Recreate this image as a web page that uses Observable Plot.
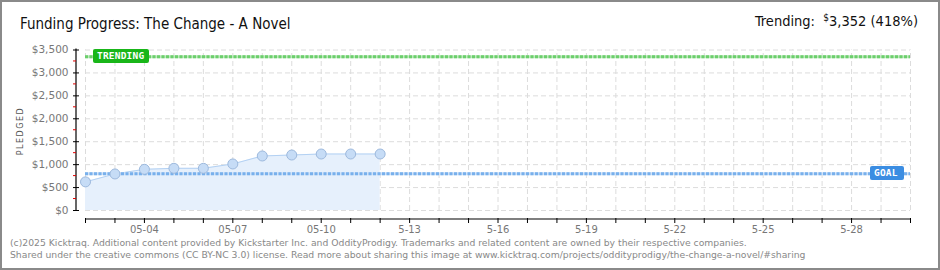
<!DOCTYPE html>
<html>
<head>
<meta charset="utf-8">
<script src="https://cdn.jsdelivr.net/npm/d3@7"></script>
<script src="https://cdn.jsdelivr.net/npm/@observablehq/plot@0.6"></script>
<style>
  html, body { margin: 0; padding: 0; background: #fff; }
  #wrap { position: relative; width: 940px; height: 270px; overflow: hidden; background: #fff; }
  #border { position: absolute; left: 0; top: 0; width: 940px; height: 270px; box-sizing: border-box; border: 2px solid #8a8a8a; pointer-events: none; }
  #title { position: absolute; left: 20px; top: 15px; font-family: "Liberation Sans Narrow", "DejaVu Sans Condensed", sans-serif; font-size: 15px; color: #111; white-space: nowrap; }
  #trend { position: absolute; right: 22px; top: 12px; font-family: "Liberation Sans Narrow", "DejaVu Sans Condensed", sans-serif; font-size: 14.5px; color: #111; white-space: nowrap; }
  #trend sup { font-size: 10px; vertical-align: 5px; }
  #foot { position: absolute; left: 10px; top: 237px; font-family: "DejaVu Sans", sans-serif; font-size: 9.25px; line-height: 12px; color: #888; white-space: nowrap; }
  #ylab { position: absolute; left: 20px; top: 131px; transform: translate(-50%, -50%) rotate(-90deg); transform-origin: center; font-family: "DejaVu Sans", sans-serif; font-size: 8px; letter-spacing: 1.5px; color: #555; white-space: nowrap; }
  #chart { position: absolute; left: 0; top: 0; }
</style>
</head>
<body>
<div id="wrap">
  <div id="chart"></div>
  <div id="title"></div>
  <div id="trend"></div>
  <div id="ylab"></div>
  <div id="foot"></div>
  <div id="border"></div>
</div>
<script>
// ---- data ----
const title = "Funding Progress: The Change - A Novel";
const trendingLabel = "Trending:";
const trendingText = "3,352 (418%)";
const yAxisLabel = "PLEDGED";
const footerLines = [
  "(c)2025 Kicktraq. Additional content provided by Kickstarter Inc. and OddityProdigy. Trademarks and related content are owned by their respective companies.",
  "Shared under the creative commons (CC BY-NC 3.0) license. Read more about sharing this image at www.kicktraq.com/projects/oddityprodigy/the-change-a-novel/#sharing"
];
const dates = ["2025-05-02","2025-05-03","2025-05-04","2025-05-05","2025-05-06","2025-05-07","2025-05-08","2025-05-09","2025-05-10","2025-05-11","2025-05-12"];
const pledged = [624, 797, 898, 920, 920, 1015, 1189, 1210, 1232, 1232, 1232];
const goal = 800;
const trending = 3352;
const xStart = "2025-05-02";
const xEnd = "2025-05-30";
const xLabelDates = ["2025-05-04","2025-05-07","2025-05-10","2025-05-13","2025-05-16","2025-05-19","2025-05-22","2025-05-25","2025-05-28"];
const xLabels = ["05-04","05-07","05-10","5-13","5-16","5-19","5-22","5-25","5-28"];
const yTicks = [0, 500, 1000, 1500, 2000, 2500, 3000, 3500];
const yTickLabels = ["$0","$500","$1,000","$1,500","$2,000","$2,500","$3,000","$3,500"];
const yMinorTicks = [250, 750, 1250, 1750, 2250, 2750, 3250];

// ---- build ----
const parse = s => new Date(s + "T00:00:00Z");
const data = dates.map((d, i) => ({date: parse(d), value: pledged[i]}));
const t0 = parse(xStart), t1 = parse(xEnd);
const allDays = d3.utcDay.range(t0, d3.utcDay.offset(t1, 1));
const labelDates = xLabelDates.map(parse);
const labelFor = d => xLabels[labelDates.findIndex(x => +x === +d)];

document.getElementById("title").textContent = title;
document.getElementById("trend").innerHTML = trendingLabel + "&nbsp;&nbsp;<sup>$</sup>" + trendingText;
document.getElementById("ylab").textContent = yAxisLabel;
document.getElementById("foot").innerHTML = footerLines.map(l => `<div>${l}</div>`).join("");

function axisLines(index, scales, values, dimensions) {
  const g = d3.create("svg:g");
  const {height, marginLeft, marginBottom} = dimensions;
  const yb = height - marginBottom + 1;
  g.append("line").attr("x1", scales.x(t0)).attr("x2", scales.x(t1)).attr("y1", yb).attr("y2", yb)
    .attr("stroke", "#000").attr("stroke-width", 1.2);
  g.append("line").attr("x1", marginLeft - 3).attr("x2", marginLeft - 3)
    .attr("y1", scales.y(3500) - 1).attr("y2", scales.y(0) + 1).attr("stroke", "#000").attr("stroke-width", 1.2);
  g.selectAll("line.minor").data(yMinorTicks).join("line")
    .attr("x1", marginLeft - 6).attr("x2", marginLeft - 3)
    .attr("y1", d => scales.y(d)).attr("y2", d => scales.y(d))
    .attr("stroke", "#e00000").attr("stroke-width", 1);
  return g.node();
}

function badge(text, value, anchorDate, side, fill, w) {
  return (index, scales) => {
    const g = d3.create("svg:g");
    const y = Math.round(scales.y(value));
    const x = side === "left" ? scales.x(anchorDate) + 8 : scales.x(anchorDate) - 6 - w;
    g.append("rect").attr("x", x).attr("y", y - 7).attr("width", w).attr("height", 14)
      .attr("rx", 2).attr("fill", fill);
    g.append("text").attr("x", x + 4).attr("y", y + 0.5).attr("dominant-baseline", "middle")
      .attr("text-anchor", "start")
      .attr("fill", "#fff").attr("font-family", "DejaVu Sans Mono, monospace").attr("font-size", 9.5)
      .attr("font-weight", "bold").attr("letter-spacing", 0.2).text(text);
    return g.node();
  };
}

const chart = Plot.plot({
  width: 940,
  height: 270,
  marginLeft: 79,
  marginRight: 30,
  marginTop: 49,
  marginBottom: 52,
  style: {fontFamily: "DejaVu Sans, sans-serif", fontSize: "10px", background: "transparent"},
  x: {type: "utc", domain: [t0, t1], range: [85, 910]},
  y: {domain: [0, 3500], range: [210, 49.5]},
  marks: [
    Plot.ruleX(allDays, {x: d => d, y1: 0, y2: 3500, stroke: "#dcdcdc", strokeDasharray: "5,3"}),
    Plot.ruleY(yTicks, {y: d => d, x1: t0, x2: t1, stroke: "#dcdcdc", strokeDasharray: "5,3"}),
    Plot.areaY(data, {x: "date", y: "value", fill: "#e6f0fc"}),
    Plot.line(data, {x: "date", y: "value", stroke: "#b3d1f3", strokeWidth: 1}),
    Plot.ruleY([goal], {x1: t0, x2: t1, stroke: "#cfe2f8", strokeWidth: 3}),
    Plot.ruleY([goal], {x1: t0, x2: t1, stroke: "#78b0ec", strokeWidth: 3, strokeDasharray: "3,1.5"}),
    Plot.ruleY([trending], {x1: t0, x2: t1, stroke: "#bfe9bf", strokeWidth: 3}),
    Plot.ruleY([trending], {x1: t0, x2: t1, stroke: "#6ccf6c", strokeWidth: 3, strokeDasharray: "3,1.5"}),
    Plot.dot(data, {x: "date", y: "value", r: 5, fill: "#c6dcf6", stroke: "#9db9dd", strokeWidth: 1}),
    Plot.axisY(yTicks, {anchor: "left", tickSize: 6, tickPadding: 5, stroke: "#000", fill: "#777", fontSize: 10.5,
      tickFormat: d => yTickLabels[yTicks.indexOf(d)], label: null}),
    Plot.axisX(allDays, {anchor: "bottom", tickSize: 5, text: null, stroke: "#000", label: null}),
    Plot.axisX(labelDates, {anchor: "bottom", tickSize: 0, tickPadding: 7, fill: "#777", fontSize: 10,
      tickFormat: labelFor, label: null}),
    axisLines,
    badge("TRENDING", trending, t0, "left", "#19b619", 56),
    badge("GOAL", goal, t1, "right", "#3b8de2", 34)
  ]
});
document.getElementById("chart").appendChild(chart);
</script>
</body>
</html>
